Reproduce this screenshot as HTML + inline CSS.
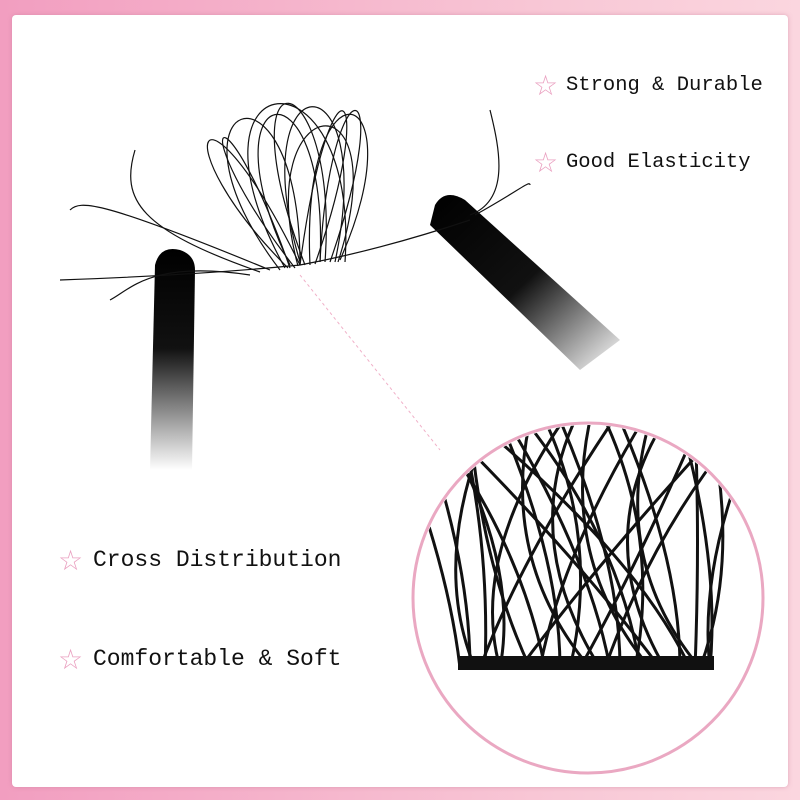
<!DOCTYPE html>
<html><head><style>
body{margin:0;width:800px;height:800px;overflow:hidden}
.bg{position:absolute;left:0;top:0;width:800px;height:800px;background:linear-gradient(90deg,#f29ec0,#f8c8d6 70%,#fbd6df)}
.in{position:absolute;left:12px;top:15px;width:776px;height:772px;background:#fff;border-radius:4px;box-shadow:0 0 4px rgba(200,120,150,.5)}
.t{position:absolute;font-family:"Liberation Mono",monospace;font-size:20.5px;color:#111;white-space:nowrap;line-height:24px}
.t.l{font-size:23px}
.s{position:absolute;color:#eaa0c0;font-size:28px;line-height:28px;font-family:"DejaVu Sans",sans-serif}
</style></head><body>
<div class="bg"></div><div class="in"></div>
<svg width="800" height="800" style="position:absolute;left:0;top:0">
<defs>
<linearGradient id="g1" x1="0" y1="0" x2="0" y2="1"><stop offset="0" stop-color="#000"/><stop offset=".45" stop-color="#111"/><stop offset="1" stop-color="#fff"/></linearGradient>
<linearGradient id="g2" x1="0" y1="0" x2="1" y2="1"><stop offset="0" stop-color="#000"/><stop offset=".5" stop-color="#111"/><stop offset="1" stop-color="#fff"/></linearGradient>
<clipPath id="c"><circle cx="588" cy="598" r="173"/></clipPath>
</defs>
<path d="M155,265 Q160,245 180,250 Q195,255 195,270 L192,470 L150,470 Z" fill="url(#g1)"/>
<path d="M435,205 Q445,188 465,200 L620,340 L580,370 L430,225 Z" fill="url(#g2)"/>
<g fill="none" stroke="#111" stroke-width="1.2">
<path d="M60,280 Q200,275 300,265 Q380,250 470,220"/>
<path d="M280,270 C150,100 300,40 300,265"/><path d="M290,265 C200,80 330,50 320,262"/>
<path d="M300,262 C240,60 380,50 335,262"/><path d="M310,265 C300,50 420,80 340,260"/>
<path d="M295,268 C180,120 220,70 290,268"/><path d="M320,262 C330,60 400,60 330,262"/>
<path d="M285,268 C170,60 360,40 345,262"/><path d="M270,270 C100,200 80,200 70,210"/>
<path d="M305,265 C220,40 340,60 325,262"/><path d="M298,266 C250,90 400,70 338,262"/>
<path d="M288,268 C160,140 200,60 300,265"/><path d="M315,264 C380,80 330,40 300,265"/>
<path d="M260,272 C140,230 120,200 135,150"/><path d="M250,275 C150,260 130,290 110,300"/>
<path d="M470,215 C510,200 500,150 490,110"/><path d="M475,215 C520,190 530,180 530,185"/>
</g>
<line x1="300" y1="275" x2="440" y2="450" stroke="#f0b0c8" stroke-dasharray="3 3"/>
<circle cx="588" cy="598" r="175" fill="#fff" stroke="#eaa8c2" stroke-width="3"/>
<g clip-path="url(#c)" fill="none" stroke="#111" stroke-width="3">
<path d="M420,420 Q470,560 470,668"/><path d="M440,420 Q520,560 500,668"/><path d="M470,420 Q480,560 530,668"/>
<path d="M500,420 Q560,560 560,668"/><path d="M530,420 Q500,560 590,668"/><path d="M560,420 Q620,560 620,668"/>
<path d="M590,420 Q560,560 650,668"/><path d="M620,420 Q680,560 680,668"/><path d="M650,420 Q610,560 700,668"/>
<path d="M680,420 Q720,560 710,668"/><path d="M700,420 Q640,560 580,668"/><path d="M720,430 Q600,560 520,668"/>
<path d="M450,430 Q580,560 660,668"/><path d="M480,425 Q640,560 690,668"/><path d="M610,425 Q520,560 480,668"/>
<path d="M640,425 Q560,560 540,668"/><path d="M510,425 Q590,560 610,668"/><path d="M560,425 Q470,560 500,668"/>
<path d="M410,470 Q450,580 460,668"/><path d="M740,470 Q700,580 710,668"/>
<path d="M430,420 Q520,540 545,668"/><path d="M545,420 Q600,540 570,668"/><path d="M575,420 Q520,540 600,668"/>
<path d="M605,420 Q660,540 635,668"/><path d="M665,420 Q590,540 665,668"/><path d="M695,420 Q700,540 695,668"/>
<path d="M460,420 Q490,540 485,668"/><path d="M730,440 Q650,540 605,668"/><path d="M525,420 Q620,540 640,668"/>
<path d="M490,420 Q430,560 475,668"/><path d="M710,425 Q740,560 700,668"/>
</g>
<rect x="458" y="656" width="256" height="14" fill="#111"/>
</svg>
<div class="s" style="left:533px;top:72px">☆</div><div class="t" style="left:566px;top:74px">Strong &amp; Durable</div>
<div class="s" style="left:533px;top:149px">☆</div><div class="t" style="left:566px;top:151px">Good Elasticity</div>
<div class="s" style="left:58px;top:547px">☆</div><div class="t l" style="left:93px;top:548px">Cross Distribution</div>
<div class="s" style="left:58px;top:646px">☆</div><div class="t l" style="left:93px;top:647px">Comfortable &amp; Soft</div>
</body></html>
